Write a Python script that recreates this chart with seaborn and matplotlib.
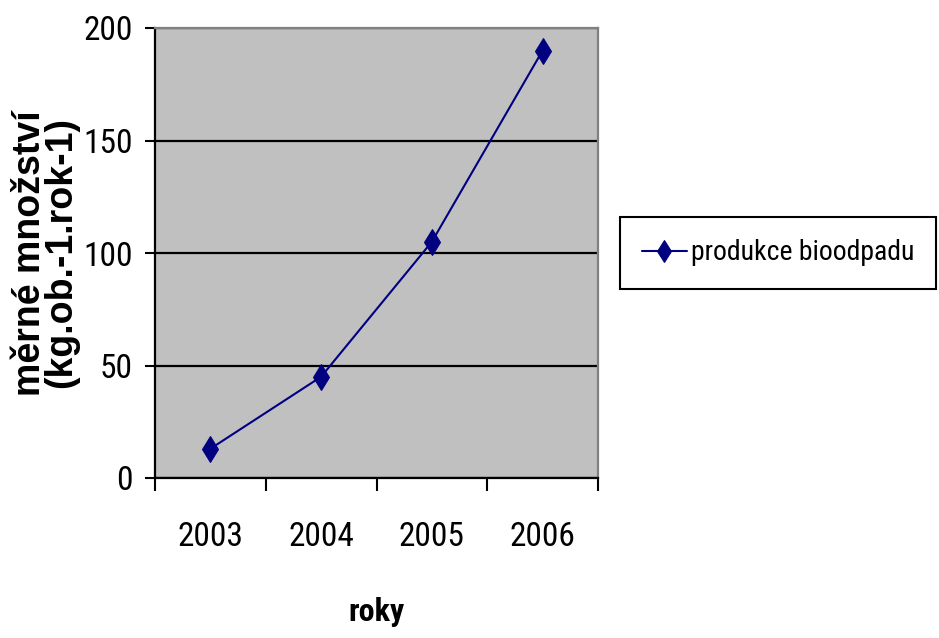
import matplotlib
matplotlib.use("Agg")
import matplotlib.pyplot as plt
import seaborn as sns

# data
roky = [2003, 2004, 2005, 2006]
produkce = [13, 45, 105, 190]
hranice = [2002.5, 2003.5, 2004.5, 2005.5, 2006.5]
y_ticks = [0, 50, 100, 150, 200]

sns.set_style("white")
plt.rcParams['font.family'] = ['Roboto Condensed', 'Liberation Sans', 'DejaVu Sans']
plt.rcParams['text.color'] = 'black'
plt.rcParams['xtick.color'] = 'black'
plt.rcParams['ytick.color'] = 'black'
plt.rcParams['axes.labelcolor'] = 'black'

fig = plt.figure(figsize=(9.39, 6.38), dpi=100)
ax = fig.add_axes([155 / 939, 1 - 478 / 638, 443 / 939, 450 / 638])
ax.set_facecolor('#C0C0C0')

sns.lineplot(x=roky, y=produkce, ax=ax, color='#000080', linewidth=1.5,
             marker='d', markersize=13, markeredgecolor='#000080',
             label='produkce bioodpadu', zorder=3)

ax.set_xlim(hranice[0], hranice[-1])
ax.set_ylim(0, 200)

# ticks between categories, labels at the category centres
ax.set_xticks(hranice)
ax.set_xticklabels([''] * len(hranice))
ax.set_xticks(roky, minor=True)
ax.set_xticklabels([str(r) for r in roky], minor=True)
ax.tick_params(axis='x', which='major', direction='out', length=9, width=1.5,
               color='black', bottom=True)
ax.tick_params(axis='x', which='minor', length=0, pad=31, labelsize=24)

ax.set_yticks(y_ticks)
ax.tick_params(axis='y', direction='out', length=7, width=1.5, color='black',
               left=True, pad=9, labelsize=24)

ax.yaxis.grid(True, color='black', linewidth=1.6)
ax.xaxis.grid(False)
ax.set_axisbelow(True)

for side in ['left', 'bottom']:
    ax.spines[side].set_color('black')
    ax.spines[side].set_linewidth(1.6)
for side in ['top', 'right']:
    ax.spines[side].set_color('#808080')
    ax.spines[side].set_linewidth(1.6)
    ax.spines[side].set_visible(True)

ax.set_ylabel('měrné množství\n(kg.ob.-1.rok-1)', fontsize=27, fontweight='bold',
              family=['Liberation Sans', 'DejaVu Sans'], linespacing=0.82)
ax.yaxis.set_label_coords(-0.172, 0.5)
ax.set_xlabel('roky', fontsize=23, fontweight='bold', va='top')
ax.xaxis.set_label_coords(0.5, -0.265)

leg = ax.legend(loc='center left', bbox_to_anchor=(620 / 939, 1 - 253 / 638),
                bbox_transform=fig.transFigure, fontsize=20, frameon=True,
                fancybox=False, edgecolor='black', framealpha=1,
                borderpad=0.8, handlelength=1.6, handletextpad=0.15,
                borderaxespad=0, markerscale=0.85)
leg.get_frame().set_linewidth(1.5)

fig.savefig('out.png', dpi=100, facecolor='white')
